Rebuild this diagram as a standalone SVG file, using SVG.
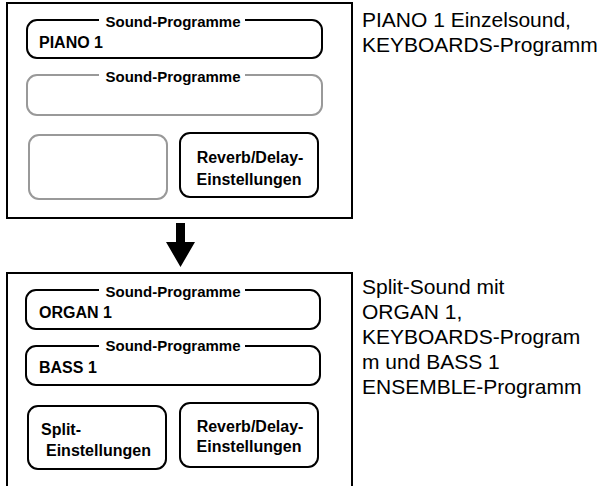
<svg xmlns="http://www.w3.org/2000/svg" width="604" height="486" viewBox="0 0 604 486">
<style>
.frame{fill:#fff;stroke:#000;stroke-width:2}
.box{fill:#fff;stroke:#000;stroke-width:2}
.gbox{fill:#fff;stroke:#999;stroke-width:2}
.lbl{font-family:"Liberation Sans",Arial,sans-serif;font-weight:bold;font-size:15px;fill:#000;text-anchor:middle}
.b{font-family:"Liberation Sans",Arial,sans-serif;font-weight:bold;font-size:16px;fill:#000}
.c{text-anchor:middle}
.note{font-family:"Liberation Sans",Arial,sans-serif;font-size:21px;fill:#000}
.gap{fill:#fff}
</style>
<rect width="604" height="486" fill="#fff"/>
<g id="before">
  <rect class="frame" x="7" y="3" width="345" height="215"/>
  <g id="before-sound1">
    <rect class="box" x="27" y="20" width="295" height="38" rx="10"/>
    <rect class="gap" x="99" y="12" width="146" height="14"/>
    <text class="lbl" x="173" y="27">Sound-Programme</text>
    <text class="b" x="39" y="48">PIANO 1</text>
  </g>
  <g id="before-sound2">
    <rect class="gbox" x="27" y="75" width="295" height="40" rx="10"/>
    <rect class="gap" x="99" y="68" width="146" height="14"/>
    <text class="lbl" x="173" y="82">Sound-Programme</text>
  </g>
  <g id="before-empty">
    <rect class="gbox" x="29" y="135" width="138" height="64" rx="10"/>
  </g>
  <g id="before-reverb">
    <rect class="box" x="180" y="133" width="138" height="64" rx="10"/>
    <text class="b c" x="250" y="163">Reverb/Delay-</text>
    <text class="b c" x="249" y="185">Einstellungen</text>
  </g>
  <text class="note" x="362" y="27">PIANO 1 Einzelsound,</text>
  <text class="note" x="362" y="52">KEYBOARDS-Programm</text>
</g>
<g id="connectors">
  <polygon points="176,223 185,223 185,242 195,242 180.5,267 166,242 176,242" fill="#000"/>
</g>
<g id="after">
  <rect class="frame" x="7" y="273" width="345" height="220"/>
  <g id="after-sound1">
    <rect class="box" x="26" y="290" width="294" height="39" rx="10"/>
    <rect class="gap" x="99" y="283" width="146" height="14"/>
    <text class="lbl" x="173" y="297">Sound-Programme</text>
    <text class="b" x="39" y="318">ORGAN 1</text>
  </g>
  <g id="after-sound2">
    <rect class="box" x="26" y="346" width="294" height="39" rx="10"/>
    <rect class="gap" x="99" y="339" width="146" height="14"/>
    <text class="lbl" x="173" y="351">Sound-Programme</text>
    <text class="b" x="39" y="373">BASS 1</text>
  </g>
  <g id="after-split">
    <rect class="box" x="28" y="406" width="138" height="63" rx="10"/>
    <text class="b" x="41" y="435">Split-</text>
    <text class="b" x="46" y="456">Einstellungen</text>
  </g>
  <g id="after-reverb">
    <rect class="box" x="180" y="403" width="138" height="64" rx="10"/>
    <text class="b c" x="250" y="432">Reverb/Delay-</text>
    <text class="b c" x="249" y="452">Einstellungen</text>
  </g>
  <text class="note" x="362" y="294">Split-Sound mit</text>
  <text class="note" x="362" y="319">ORGAN 1,</text>
  <text class="note" x="362" y="344">KEYBOARDS-Program</text>
  <text class="note" x="362" y="369">m und BASS 1</text>
  <text class="note" x="362" y="394">ENSEMBLE-Programm</text>
</g>
</svg>
